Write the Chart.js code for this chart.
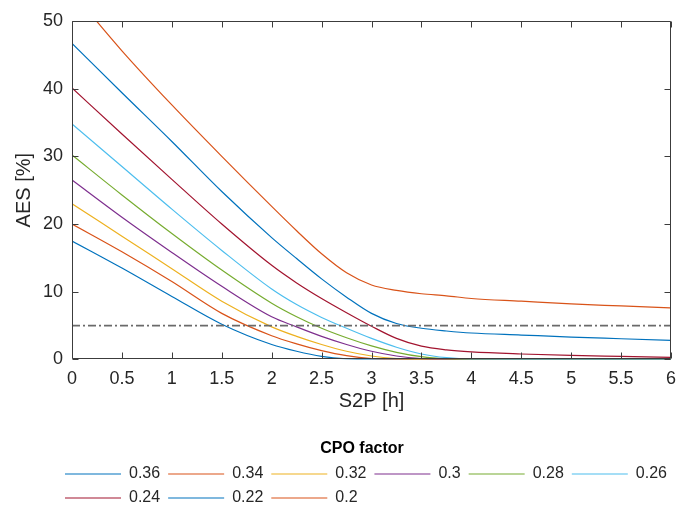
<!DOCTYPE html>
<html>
<head>
<meta charset="utf-8">
<script src="https://cdn.jsdelivr.net/npm/chart.js@4.4.0/dist/chart.umd.min.js"></script>
<style>
html,body{margin:0;padding:0;background:#fff;}
#wrap{width:676px;height:507px;}
</style>
</head>
<body>
<div id="wrap"><canvas id="c" width="676" height="507"></canvas></div>
<script>
// ---- data ----
const s2p = [0, 0.5, 1, 1.5, 2, 2.25, 2.5, 2.75, 3, 3.25, 3.5, 3.75, 4, 4.5, 5, 5.5, 6];
const cpoLabels = ['0.36', '0.34', '0.32', '0.3', '0.28', '0.26', '0.24', '0.22', '0.2'];
const cpo036 = [17.5, 13.5, 9.3, 5.2, 2.2, 1.2, 0.45, 0.08, 0, 0, 0, 0, 0, 0, 0, 0, 0];
const cpo034 = [20.0, 15.9, 11.5, 6.8, 3.5, 2.3, 1.3, 0.55, 0.12, 0, 0, 0, 0, 0, 0, 0, 0];
const cpo032 = [23.0, 18.2, 13.4, 8.6, 4.8, 3.4, 2.2, 1.2, 0.5, 0.12, 0, 0, 0, 0, 0, 0, 0];
const cpo030 = [26.5, 21.0, 15.8, 10.8, 6.3, 4.8, 3.4, 2.2, 1.2, 0.5, 0.12, 0, 0, 0, 0, 0, 0];
const cpo028 = [30.2, 24.3, 18.6, 13.2, 8.3, 6.3, 4.6, 3.2, 2.0, 1.05, 0.4, 0.08, 0, 0, 0, 0, 0];
const cpo026 = [34.8, 28.5, 22.2, 16.1, 10.4, 8.1, 6.2, 4.6, 3.1, 1.8, 0.8, 0.25, 0.03, 0, 0, 0, 0];
const cpo024 = [40.1, 33.3, 26.6, 20.0, 13.9, 11.3, 9.0, 6.9, 4.9, 3.1, 1.95, 1.4, 1.1, 0.8, 0.6, 0.45, 0.3];
const cpo022 = [46.7, 39.4, 32.2, 24.8, 18.0, 14.9, 11.9, 9.2, 6.8, 5.3, 4.6, 4.2, 3.9, 3.6, 3.3, 3.05, 2.8];
const cpo020 = [54.3, 45.6, 37.6, 30.0, 22.6, 19.0, 15.6, 12.8, 11.0, 10.2, 9.7, 9.4, 9.0, 8.6, 8.2, 7.9, 7.6];
const seriesValues = [cpo036, cpo034, cpo032, cpo030, cpo028, cpo026, cpo024, cpo022, cpo020];
const threshold = 5;
const xTickStep = 0.5;
const yTickStep = 10;

// ---- styles ----
const palette = ['#0072BD', '#D95319', '#EDB120', '#7E2F8E', '#77AC30', '#4DBEEE', '#A2142F', '#0072BD', '#D95319'];
const textColor = '#262626';
Chart.defaults.font.family = '"Liberation Sans", Arial, Helvetica, sans-serif';
Chart.defaults.color = textColor;

const datasets = seriesValues.map((vals, i) => ({
  label: cpoLabels[i],
  data: s2p.map((x, j) => ({x: x, y: vals[j]})),
  borderColor: palette[i],
  backgroundColor: palette[i],
  borderWidth: 1.2,
  pointRadius: 0,
  cubicInterpolationMode: 'monotone',
  fill: false,
  order: -i
}));
datasets.push({
  label: 'threshold',
  data: [{x: s2p[0], y: threshold}, {x: s2p[s2p.length - 1], y: threshold}],
  borderColor: '#6a6a6a',
  borderWidth: 1.7,
  borderDash: [8, 3, 2, 3],
  pointRadius: 0,
  fill: false,
  order: -100
});

const framePlugin = {
  id: 'frame',
  afterLayout(chart) {
    const lg = chart.legend;
    if (!lg) return;
    const w = lg.right - lg.left;
    const h = lg.bottom - lg.top;
    lg.left = 57; lg.right = 57 + w;
    lg.top = 441; lg.bottom = 441 + h;
  },
  afterDatasetsDraw(chart) {
    const {ctx, chartArea: a, scales} = chart;
    const L = Math.round(a.left) + 0.5, R = Math.round(a.right) - 0.5;
    const T = Math.round(a.top) + 0.5, B = Math.round(a.bottom) - 0.5;
    const tl = 6;
    ctx.save();
    ctx.strokeStyle = '#3c3c3c';
    ctx.lineWidth = 1;
    ctx.beginPath();
    ctx.rect(L, T, R - L, B - T);
    scales.x.ticks.forEach(t => {
      const px = Math.round(scales.x.getPixelForValue(t.value)) + 0.5;
      ctx.moveTo(px, B); ctx.lineTo(px, B - tl);
      ctx.moveTo(px, T); ctx.lineTo(px, T + tl);
    });
    scales.y.ticks.forEach(t => {
      const py = Math.round(scales.y.getPixelForValue(t.value)) + 0.5;
      ctx.moveTo(L, py); ctx.lineTo(L + tl, py);
      ctx.moveTo(R, py); ctx.lineTo(R - tl, py);
    });
    ctx.stroke();
    ctx.restore();
  }
};

const fmt = v => String(Math.round(v * 100) / 100);

new Chart(document.getElementById('c'), {
  type: 'line',
  data: {datasets: datasets},
  options: {
    responsive: false,
    animation: false,
    devicePixelRatio: 1,
    layout: {padding: {left: 12, right: 5, top: 21, bottom: 9}},
    scales: {
      x: {
        type: 'linear', min: 0, max: 6,
        afterFit: s => { s.paddingRight = 0; },
        ticks: {stepSize: xTickStep, padding: 9, font: {size: 18}, color: textColor, maxRotation: 0, autoSkip: false, callback: fmt},
        grid: {display: false, drawTicks: false, tickLength: 0},
        border: {display: false},
        title: {display: true, text: 'S2P [h]', font: {size: 20}, color: textColor, padding: {top: -10, bottom: 10}}
      },
      y: {
        type: 'linear', min: 0, max: 50,
        ticks: {stepSize: yTickStep, padding: 9, font: {size: 18}, color: textColor, callback: fmt},
        grid: {display: false, drawTicks: false, tickLength: 0},
        border: {display: false},
        title: {display: true, text: 'AES [%]', font: {size: 20}, color: textColor, padding: {top: 0, bottom: -2}}
      }
    },
    plugins: {
      tooltip: {enabled: false},
      legend: {
        position: 'bottom',
        align: 'start',
        labels: {
          boxWidth: 56, boxHeight: 0, padding: 8,
          font: {size: 16}, color: textColor,
          filter: item => item.datasetIndex < seriesValues.length,
          sort: (a, b) => a.datasetIndex - b.datasetIndex
        },
        title: {display: true, text: 'CPO factor', color: '#000', font: {size: 16, weight: 'bold', lineHeight: 1}, padding: {top: 0, bottom: 1}}
      }
    }
  },
  plugins: [framePlugin]
});
</script>
</body>
</html>
